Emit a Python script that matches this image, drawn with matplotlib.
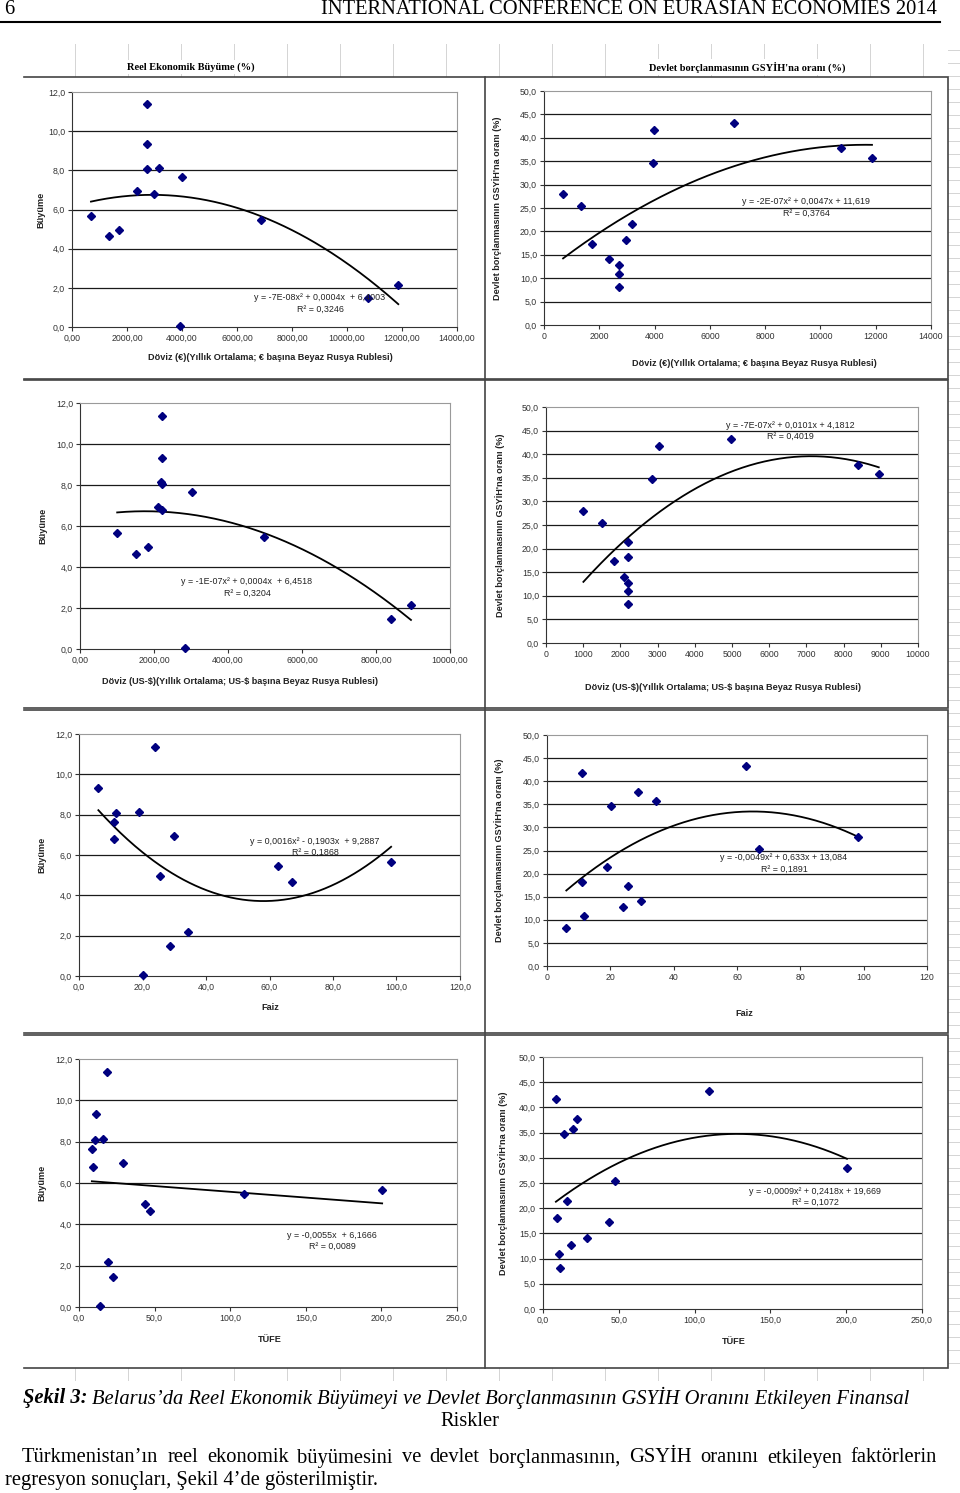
import numpy as np
import matplotlib
matplotlib.use("Agg")
import matplotlib.pyplot as plt
from matplotlib.patches import Rectangle
from matplotlib.lines import Line2D
from matplotlib.ticker import FuncFormatter

# --- veriler (14 gözlem, € kuruna göre sıralı) ---
doviz_eur = [690, 1340, 1725, 2365, 2725, 2715, 2730, 2970, 3176, 3926, 3987, 6860, 10757, 11865]
doviz_usd = [1005, 1512, 1828, 2102, 2213, 2213, 2205, 2205, 2195, 2847, 3027, 4980, 8392, 8945]
faiz = [98.3, 67.1, 25.5, 29.8, 23.9, 6.1, 11.8, 11.1, 19.0, 20.3, 11.0, 62.7, 28.6, 34.3]
tufe = [200.5, 47.2, 43.8, 29.1, 18.3, 11.3, 10.6, 9.4, 15.6, 13.8, 8.5, 109.2, 22.7, 19.5]
buyume = [5.66, 4.65, 4.97, 6.95, 11.37, 9.34, 8.06, 6.78, 8.14, 0.05, 7.66, 5.45, 1.47, 2.17]
borc = [27.9, 25.4, 17.35, 14.07, 12.75, 8.2, 10.92, 18.15, 21.5, 34.66, 41.75, 43.25, 37.77, 35.77]

denklemler = [
    ("y = -7E-08x² + 0,0004x  + 6,4003", "R² = 0,3246"),
    ("y = -2E-07x² + 0,0047x + 11,619", "R² = 0,3764"),
    ("y = -1E-07x² + 0,0004x  + 6,4518", "R² = 0,3204"),
    ("y = -7E-07x² + 0,0101x + 4,1812", "R² = 0,4019"),
    ("y = 0,0016x² - 0,1903x  + 9,2887", "R² = 0,1868"),
    ("y = -0,0049x² + 0,633x + 13,084", "R² = 0,1891"),
    ("y = -0,0055x  + 6,1666", "R² = 0,0089"),
    ("y = -0,0009x² + 0,2418x + 19,669", "R² = 0,1072"),
]

lbl_eur = "Döviz (€)(Yıllık Ortalama; € başına Beyaz Rusya Rublesi)"
lbl_usd = "Döviz (US-$)(Yıllık Ortalama; US-$ başına Beyaz Rusya Rublesi)"
lbl_buy = "Büyüme"
lbl_borc = "Devlet borçlanmasının GSYİH'na oranı (%)"

W, H = 960, 1493
plt.rcParams['font.family'] = ['Liberation Sans', 'DejaVu Sans']
fig = plt.figure(figsize=(W / 100, H / 100), dpi=100)


def fx(x):
    return x / W


def fy(y):
    return 1 - y / H


def fmt(v, dec):
    return f"{v:.{dec}f}".replace('.', ',')


# arka plandaki tablo çizgileri
gcol = '#d4d4d4'
for gx in range(75, 960, 53):
    fig.add_artist(Line2D([fx(gx)] * 2, [fy(44), fy(77)], color=gcol, lw=0.7, zorder=-3))
    fig.add_artist(Line2D([fx(gx)] * 2, [fy(1368), fy(1380)], color=gcol, lw=0.7, zorder=-3))
for gy in range(50, 1375, 13):
    fig.add_artist(Line2D([fx(948), fx(960)], [fy(gy)] * 2, color=gcol, lw=0.7, zorder=-3))

# grafik çerçeveleri
rows = [(77, 379), (380, 708), (710, 1033), (1035, 1368)]
for t, b in rows:
    fig.add_artist(Rectangle((fx(24), fy(b)), (485 - 24) / W, (b - t) / H, transform=fig.transFigure,
                             facecolor='white', edgecolor='none', zorder=-2))
    for yy in (t, b):
        fig.add_artist(Line2D([fx(24), fx(485)], [fy(yy)] * 2, color='#444444', lw=1.2, zorder=-1))
    fig.add_artist(Rectangle((fx(485), fy(b)), (948 - 485) / W, (b - t) / H, transform=fig.transFigure,
                             facecolor='white', edgecolor='#444444', lw=1.2, zorder=-1))


def panel(k, bx, x, y, xmax, xstep, xdec, ymax, ystep, deg, eq_xy, xlab, xlab_xy, ylab, ylab_x):
    l, t, r, b = bx
    ax = fig.add_axes([fx(l), fy(b), (r - l) / W, (b - t) / H])
    ax.set_xlim(0, xmax)
    ax.set_ylim(0, ymax)
    ax.set_xticks(np.arange(0, xmax + xstep / 2, xstep))
    ax.set_yticks(np.arange(0, ymax + ystep / 2, ystep))
    ax.xaxis.set_major_formatter(FuncFormatter(lambda v, p: fmt(v, xdec)))
    ax.yaxis.set_major_formatter(FuncFormatter(lambda v, p: fmt(v, 1)))
    for yv in np.arange(ystep, ymax - ystep / 2, ystep):
        ax.axhline(yv, color='#1a1a1a', lw=0.9, zorder=1)
    for s in ('top', 'right'):
        ax.spines[s].set_color('#9a9a9a')
    for s in ('left', 'bottom'):
        ax.spines[s].set_color('#333333')
    ax.tick_params(labelsize=6.3, colors='#333333', length=3, width=0.8, direction='out', pad=2)
    ax.plot(x, y, 'D', ms=3.8, color='#00007f', clip_on=False, zorder=3)
    c = np.polyfit(x, y, deg)
    xs = np.linspace(min(x), max(x), 200)
    ax.plot(xs, np.polyval(c, xs), color='black', lw=1.3, zorder=2)
    e1, e2 = denklemler[k]
    fig.text(fx(eq_xy[0]), fy(eq_xy[1]), e1, fontsize=6.4, ha='center', va='center', color='#222222')
    fig.text(fx(eq_xy[0]), fy(eq_xy[1] + 11), e2, fontsize=6.4, ha='center', va='center', color='#222222')
    fig.text(fx(xlab_xy[0]), fy(xlab_xy[1]), xlab, fontsize=6.6, weight='bold', ha='center', va='center',
             color='#222222', parse_math=False)
    fig.text(fx(ylab_x), fy((t + b) / 2), ylab, fontsize=6.6, weight='bold', ha='center', va='center',
             rotation=90, color='#222222', parse_math=False)
    return ax


panel(0, (72, 92, 457, 327), doviz_eur, buyume, 14000, 2000, 2, 12, 2, 2, (320, 298),
      lbl_eur, (270, 357), lbl_buy, 41)
panel(1, (544, 91, 931, 325), doviz_eur, borc, 14000, 2000, 0, 50, 5, 2, (806, 202),
      lbl_eur, (754, 363), lbl_borc, 497)
panel(2, (80, 403, 450, 649), doviz_usd, buyume, 10000, 2000, 2, 12, 2, 2, (247, 582),
      lbl_usd, (240, 682), lbl_buy, 43)
panel(3, (546, 407, 918, 643), doviz_usd, borc, 10000, 1000, 0, 50, 5, 2, (790, 425),
      lbl_usd, (723, 687), lbl_borc, 500)
panel(4, (79, 734, 460, 976), faiz, buyume, 120, 20, 1, 12, 2, 2, (315, 841),
      "Faiz", (270, 1008), lbl_buy, 42)
panel(5, (547, 735, 927, 966), faiz, borc, 120, 20, 0, 50, 5, 2, (784, 858),
      "Faiz", (744, 1014), lbl_borc, 499)
panel(6, (79, 1059, 457, 1307), tufe, buyume, 250, 50, 1, 12, 2, 1, (332, 1235),
      "TÜFE", (270, 1340), lbl_buy, 42)
panel(7, (543, 1057, 922, 1309), tufe, borc, 250, 50, 1, 50, 5, 2, (815, 1191),
      "TÜFE", (734, 1341), lbl_borc, 503)

# üst başlıklar
for tx, ttl in ((191, "Reel Ekonomik Büyüme (%)"), (747, "Devlet borçlanmasının GSYİH'na oranı (%)")):
    fig.text(fx(tx), fy(67), ttl, family='Liberation Serif', weight='bold', fontsize=7.5,
             ha='center', va='center', bbox=dict(facecolor='white', edgecolor='none', pad=1.5))

# sayfa başlığı
serif = 'Liberation Serif'
fs = 14.8
fig.text(fx(4), fy(10), "6", family=serif, fontsize=fs, ha='left', va='center')
fig.text(fx(937), fy(10), "INTERNATIONAL CONFERENCE ON EURASIAN ECONOMIES 2014", family=serif,
         fontsize=fs, ha='right', va='center')
fig.add_artist(Line2D([0, fx(940)], [fy(22)] * 2, color='black', lw=1.5))

renderer = fig.canvas.get_renderer()

# şekil açıklaması
t1 = fig.text(fx(23), fy(1398), "Şekil 3:", family=serif, style='italic', weight='bold', fontsize=fs,
              ha='left', va='center')
w1 = t1.get_window_extent(renderer).width
fig.text(fx(23 + w1 + 4), fy(1398),
         "Belarus’da Reel Ekonomik Büyümeyi ve Devlet Borçlanmasının GSYİH Oranını Etkileyen Finansal",
         family=serif, style='italic', fontsize=fs, ha='left', va='center')
fig.text(fx(470), fy(1421), "Riskler", family=serif, fontsize=fs, ha='center', va='center')


def justify(line, x0, x1, y, **kw):
    words = line.split()
    texts = [fig.text(0, fy(y), w, ha='left', va='center', **kw) for w in words]
    widths = [tt.get_window_extent(renderer).width for tt in texts]
    gap = (x1 - x0 - sum(widths)) / (len(words) - 1)
    xpos = x0
    for tt, ww in zip(texts, widths):
        tt.set_x(fx(xpos))
        xpos += ww + gap


justify("Türkmenistan’ın reel ekonomik büyümesini ve devlet borçlanmasının, GSYİH oranını etkileyen faktörlerin",
        22, 937, 1458, family=serif, fontsize=fs)
fig.text(fx(5), fy(1481), "regresyon sonuçları, Şekil 4’de gösterilmiştir.", family=serif, fontsize=fs,
         ha='left', va='center')

fig.savefig("out.png", dpi=100)
